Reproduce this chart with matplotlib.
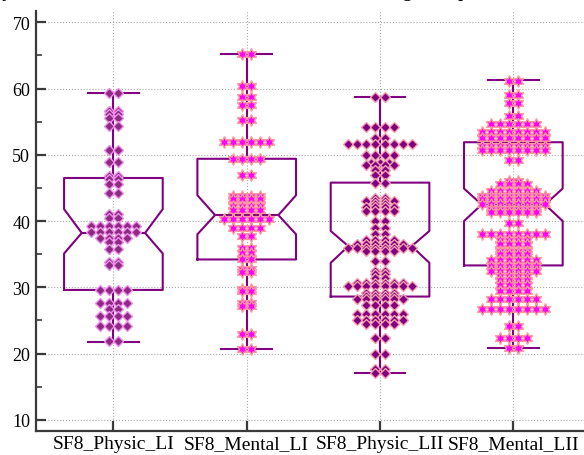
import numpy as np
import matplotlib
matplotlib.use("Agg")
import matplotlib.pyplot as plt

plt.rcParams['font.family'] = ['Liberation Serif', 'DejaVu Serif']

# categories
labels = ['SF8_Physic_LI', 'SF8_Mental_LI', 'SF8_Physic_LII', 'SF8_Mental_LII']

# box statistics
whisk_lo = [21.8, 20.7, 17.1, 20.9]
q1 = [29.6, 34.2, 28.6, 33.3]
ci_lo = [35.1, 38.0, 33.7, 40.0]
med = [38.2, 40.9, 36.2, 42.5]
ci_hi = [41.8, 43.9, 38.5, 44.9]
q3 = [46.5, 49.4, 45.8, 51.9]
whisk_hi = [59.4, 65.2, 58.8, 61.3]

# points: value of each row and how many points share it
g1_vals = [59.4, 56.6, 56.1, 55.5, 54.4, 50.7, 48.9, 46.8, 46.4, 45.6, 44.3, 41.0, 40.4,
           39.3, 38.3, 37.5, 36.8, 35.8, 33.8, 33.3, 29.6, 27.7, 26.7, 25.7, 24.1, 21.9]
g1_cnt = [2, 2, 2, 2, 2, 2, 2, 2, 2, 2, 2, 2, 2,
          6, 6, 4, 2, 2, 2, 2, 4, 4, 2, 4, 4, 2]

g2_vals = [65.2, 60.4, 58.7, 57.5, 55.2, 52.0, 49.3, 46.9, 43.8, 43.3, 42.3, 41.6, 40.3,
           39.0, 37.7, 36.0, 35.2, 34.2, 32.7, 32.3, 29.8, 29.4, 27.6, 27.2, 23.0, 20.7]
g2_cnt = [2, 2, 2, 2, 2, 6, 4, 2, 4, 4, 4, 4, 6,
          4, 2, 2, 2, 2, 2, 2, 2, 2, 2, 2, 2, 2]

g3_vals = [58.8, 54.2, 52.5, 51.7, 50.0, 48.8, 48.4, 47.7, 47.0, 45.7, 43.5, 43.1, 42.6,
           42.1, 41.5, 40.0, 39.0, 38.0, 37.1, 36.6, 35.9, 35.5, 34.0, 32.4, 32.0, 31.4,
           30.7, 30.2, 29.2, 28.7, 28.3, 27.4, 25.9, 25.1, 24.5, 22.4, 19.9, 17.6, 17.1]
g3_cnt = [2, 4, 2, 8, 4, 3, 4, 2, 2, 2, 2, 4, 2,
          4, 4, 2, 2, 2, 4, 6, 8, 4, 2, 2, 2, 2,
          6, 8, 4, 4, 6, 4, 6, 6, 4, 2, 2, 2, 2]

g4_vals = [61.2, 59.0, 57.8, 55.9, 54.7, 53.5, 52.6, 51.4, 50.8, 49.2, 46.1, 45.6, 44.5,
           43.8, 43.4, 42.5, 41.8, 41.3, 39.7, 38.1, 37.1, 36.5, 35.5, 35.0, 34.1, 33.2,
           32.4, 31.7, 31.1, 30.4, 29.4, 28.2, 26.7, 24.2, 22.4, 20.9]
g4_cnt = [2, 2, 2, 2, 6, 8, 8, 8, 8, 2, 2, 4, 6,
          8, 8, 8, 6, 6, 2, 8, 4, 4, 4, 4, 6, 6,
          6, 4, 4, 4, 4, 6, 8, 2, 4, 2]

groups = [(g1_vals, g1_cnt), (g2_vals, g2_cnt), (g3_vals, g3_cnt), (g4_vals, g4_cnt)]

line_c = '#800080'
styles = [
    dict(marker='D', ms=4.8, mfc='#8E2A80', mec='#EE90EE', mew=1.0),
    dict(marker=(6, 1, 0), ms=8.5, mfc='#FF00FF', mec='#FF9A9A', mew=1.0),
    dict(marker='D', ms=4.8, mfc='#800080', mec='#F4A0B0', mew=1.0),
    dict(marker=(6, 1, 0), ms=8.5, mfc='#FF00FF', mec='#FF9A9A', mew=1.0),
]

fig = plt.figure(figsize=(5.84, 4.56), dpi=100)
ax = fig.add_axes([0.0611, 0.0526, 0.951, 0.9209])

bw = 0.74      # box width
nw = 0.475     # notch width at the median
cw = 0.38      # cap width
dx = 0.068     # spacing of points in a row

for i in range(4):
    p = i + 1
    # notched box outline
    xs = [p - bw / 2, p + bw / 2, p + bw / 2, p + nw / 2, p + bw / 2, p + bw / 2,
          p - bw / 2, p - bw / 2, p - nw / 2, p - bw / 2, p - bw / 2]
    ys = [q1[i], q1[i], ci_lo[i], med[i], ci_hi[i], q3[i],
          q3[i], ci_hi[i], med[i], ci_lo[i], q1[i]]
    ax.plot(xs, ys, color=line_c, lw=1.5, zorder=2)
    ax.plot([p - nw / 2, p + nw / 2], [med[i], med[i]], color=line_c, lw=1.5, zorder=2)
    # whiskers and caps
    ax.plot([p, p], [q3[i], whisk_hi[i]], color=line_c, lw=1.5, zorder=2)
    ax.plot([p, p], [q1[i], whisk_lo[i]], color=line_c, lw=1.5, zorder=2)
    ax.plot([p - cw / 2, p + cw / 2], [whisk_hi[i], whisk_hi[i]], color=line_c, lw=1.5, zorder=2)
    ax.plot([p - cw / 2, p + cw / 2], [whisk_lo[i], whisk_lo[i]], color=line_c, lw=1.5, zorder=2)

    # swarm of points
    vals, cnts = groups[i]
    px, py = [], []
    for v, n in zip(vals, cnts):
        off = (np.arange(n) - (n - 1) / 2) * dx
        px.extend(p + off)
        py.extend([v] * n)
    ax.plot(px, py, ls='none', zorder=3, **styles[i])

ax.set_xlim(0.417, 4.583)
ax.set_ylim(8.3, 71.7)
ax.set_xticks([1, 2, 3, 4])
ax.set_xticklabels(labels)
ax.set_yticks(np.arange(10, 71, 10))
ax.set_yticks(np.arange(15, 70, 10), minor=True)

ax.grid(True, which='major', color='#a8a8a8', ls=':', lw=0.8)
ax.set_axisbelow(True)

for s in ['top', 'right']:
    ax.spines[s].set_visible(False)
for s in ['left', 'bottom']:
    ax.spines[s].set_linewidth(1.6)
    ax.spines[s].set_color('#3a3a3a')

ax.tick_params(axis='both', which='major', direction='in', length=7, width=1.6,
               color='#3a3a3a', labelsize=13)
ax.tick_params(axis='x', labelsize=14, pad=3)
ax.tick_params(axis='y', which='minor', direction='in', length=4, width=1.2, color='#3a3a3a')
ax.tick_params(axis='y', pad=4)

# title, mostly cut off by the top edge
fig.text(-0.035, 1 + 4 / 456, 'Physical and mental SF8 scores at the different stages of patients with LI and LII',
         fontsize=15, ha='left', va='baseline')

fig.savefig('out.png', dpi=100)
